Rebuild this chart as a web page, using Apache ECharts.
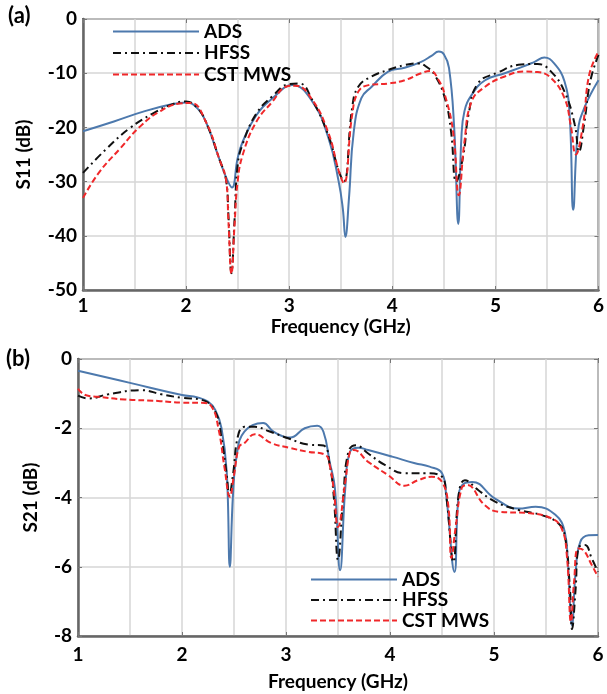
<!DOCTYPE html>
<html>
<head>
<meta charset="utf-8">
<script src="https://cdn.jsdelivr.net/npm/echarts@6/dist/echarts.min.js"></script>
<style>
html,body{margin:0;padding:0;background:#fff;}
#chart{width:607px;height:694px;}
</style>
</head>
<body>
<div id="chart"></div>
<script>
// ---- Data ----
const seriesNames = ['ADS', 'HFSS', 'CST MWS'];
const xTicks = [1, 2, 3, 4, 5, 6];
const s11Ticks = [0, -10, -20, -30, -40, -50];
const s21Ticks = [0, -2, -4, -6, -8];

// (a) S11
const s11AdsF = [1.0, 1.3, 1.6, 1.87, 2.0, 2.1, 2.19, 2.32, 2.39, 2.445, 2.5, 2.55, 2.68, 2.84, 3.03, 3.22, 3.38, 3.48, 3.52, 3.545, 3.58, 3.625, 3.7, 3.8, 3.96, 4.12, 4.28, 4.38, 4.45, 4.5, 4.55, 4.6, 4.64, 4.67, 4.7, 4.77, 4.9, 5.09, 5.28, 5.38, 5.475, 5.57, 5.67, 5.72, 5.755, 5.8, 5.86, 6.0];
const s11AdsV = [-20.7, -18.9, -17.0, -15.7, -15.4, -16.3, -18.9, -25.7, -29.3, -31.1, -25.7, -22.6, -17.8, -14.6, -12.2, -15.1, -21.9, -30, -35, -40.2, -33, -21, -14.6, -12.5, -9.7, -9.0, -7.9, -6.8, -6.0, -6.5, -9, -20, -37.8, -22, -17, -14, -11.3, -10.0, -8.7, -7.9, -7.1, -8.2, -11.5, -17.7, -35.2, -20.8, -16.5, -11.3];

const s11HfssF = [1.0, 1.23, 1.45, 1.68, 1.87, 2.0, 2.1, 2.19, 2.32, 2.39, 2.41, 2.44, 2.47, 2.5, 2.55, 2.68, 2.84, 3.0, 3.1, 3.22, 3.38, 3.48, 3.53, 3.61, 3.67, 3.8, 3.96, 4.12, 4.25, 4.33, 4.41, 4.51, 4.57, 4.62, 4.69, 4.74, 4.83, 5.02, 5.25, 5.41, 5.54, 5.67, 5.77, 5.81, 5.86, 5.92, 6.0];
const s11HfssV = [-28.4, -23.9, -20.2, -17.4, -15.7, -15.2, -16.2, -18.9, -25.7, -30, -36, -46.9, -37, -27, -23, -17.5, -14.2, -12.0, -11.9, -14.8, -21.5, -28, -30, -16.5, -12.5, -10.6, -9.4, -8.5, -8.2, -8.8, -10.3, -14.6, -20.8, -30, -25, -17.6, -11.9, -9.9, -8.4, -8.3, -9.7, -13.4, -19.5, -24.5, -19.5, -11.5, -6.6];

const s11CstF = [1.0, 1.16, 1.36, 1.55, 1.74, 1.94, 2.05, 2.19, 2.32, 2.39, 2.41, 2.44, 2.47, 2.5, 2.55, 2.68, 2.84, 2.97, 3.06, 3.22, 3.38, 3.48, 3.53, 3.61, 3.67, 3.77, 3.96, 4.12, 4.28, 4.37, 4.45, 4.51, 4.59, 4.645, 4.7, 4.77, 4.9, 5.09, 5.28, 5.41, 5.54, 5.67, 5.73, 5.78, 5.85, 5.91, 6.0];
const s11CstV = [-33.0, -28.2, -23.9, -19.9, -17.1, -15.6, -15.5, -18.9, -25.7, -30, -37, -47, -38, -30, -25, -19, -15.2, -12.5, -12.3, -14.8, -21, -28, -30.3, -17.8, -13.4, -12.2, -11.9, -11.3, -10.0, -9.6, -11.3, -14, -20.8, -32.5, -22.6, -15.2, -12.5, -10.6, -9.7, -9.8, -10.9, -14.6, -19.5, -25, -19.5, -10.3, -6.0];

// (b) S21
const s21AdsF = [1.0, 1.5, 2.0, 2.15, 2.25, 2.32, 2.38, 2.43, 2.46, 2.49, 2.525, 2.6, 2.78, 2.88, 3.04, 3.18, 3.3, 3.36, 3.42, 3.47, 3.52, 3.57, 3.615, 3.695, 3.79, 4.02, 4.24, 4.38, 4.5, 4.54, 4.62, 4.66, 4.71, 4.79, 5.01, 5.235, 5.4, 5.59, 5.68, 5.71, 5.75, 5.785, 5.83, 5.91, 6.0];
const s21AdsV = [-0.34, -0.69, -1.04, -1.11, -1.23, -1.47, -2.0, -3.26, -6.0, -3.93, -2.8, -2.1, -1.85, -2.1, -2.27, -2.0, -1.93, -2.1, -2.97, -3.73, -6.1, -3.73, -2.68, -2.56, -2.63, -2.82, -3.01, -3.11, -3.3, -3.93, -6.15, -3.93, -3.6, -3.55, -4.03, -4.32, -4.27, -4.5, -4.99, -5.86, -7.69, -6.15, -5.28, -5.09, -5.08];

const s21HfssF = [1.0, 1.1, 1.29, 1.61, 1.8, 2.0, 2.19, 2.32, 2.38, 2.43, 2.455, 2.49, 2.54, 2.6, 2.7, 2.83, 3.02, 3.21, 3.36, 3.42, 3.46, 3.5, 3.55, 3.6, 3.67, 3.79, 3.95, 4.14, 4.34, 4.5, 4.54, 4.61, 4.66, 4.72, 4.85, 5.01, 5.235, 5.46, 5.62, 5.68, 5.73, 5.75, 5.785, 5.81, 5.875, 5.94, 6.0];
const s21HfssV = [-1.06, -1.14, -1.02, -0.9, -1.02, -1.12, -1.18, -1.52, -2.29, -3.35, -3.93, -3.35, -2.2, -1.96, -1.96, -2.08, -2.29, -2.47, -2.5, -3.06, -4.0, -5.8, -4.0, -2.68, -2.49, -2.73, -3.06, -3.3, -3.3, -3.4, -3.93, -5.86, -3.93, -3.5, -3.79, -4.12, -4.36, -4.51, -4.75, -5.09, -6.63, -7.8, -6.63, -5.47, -5.37, -5.76, -6.15];

const s21CstF = [1.0, 1.07, 1.19, 1.45, 1.77, 2.0, 2.19, 2.285, 2.35, 2.41, 2.46, 2.5, 2.55, 2.6, 2.7, 2.86, 3.04, 3.21, 3.38, 3.42, 3.46, 3.5, 3.57, 3.615, 3.65, 3.79, 3.98, 4.14, 4.27, 4.4, 4.5, 4.56, 4.59, 4.63, 4.69, 4.74, 4.91, 5.04, 5.33, 5.55, 5.65, 5.7, 5.74, 5.77, 5.81, 5.86, 5.94, 6.0];
const s21CstV = [-0.86, -1.04, -1.09, -1.17, -1.21, -1.26, -1.26, -1.38, -2.0, -3.16, -3.98, -3.35, -2.53, -2.43, -2.17, -2.43, -2.57, -2.68, -2.77, -3.06, -3.8, -4.85, -3.55, -2.68, -2.63, -2.97, -3.35, -3.66, -3.5, -3.4, -3.55, -4.22, -5.75, -4.89, -3.72, -3.64, -4.22, -4.41, -4.45, -4.6, -4.89, -5.66, -7.59, -6.43, -5.47, -5.52, -5.95, -6.29];

// ---- Chart ----
const FONT = 'Lato, "Open Sans", sans-serif';
const pairs = (f, v) => f.map((x, i) => [x, v[i]]);
const colors = { 'ADS': '#4d79ad', 'HFSS': '#111111', 'CST MWS': '#f0282a' };
const styles = {
  'ADS': { width: 2, type: 'solid' },
  'HFSS': { width: 2, type: [8, 4, 2, 4] },
  'CST MWS': { width: 2, type: [6, 3] }
};
const gridLineStyle = { color: '#d6d6d6', width: 1.5 };
const labelFont = { fontFamily: FONT, fontWeight: 'bold', fontSize: 19, color: '#000' };

function mkX(gridIndex, labelMargin, nameGap) {
  return [{
    type: 'value', gridIndex, min: xTicks[0], max: xTicks[xTicks.length - 1], interval: 1,
    name: 'Frequency (GHz)', nameLocation: 'middle', nameGap,
    nameTextStyle: labelFont,
    axisLine: { show: true, onZero: false, lineStyle: { color: '#666', width: 2.5 } },
    axisTick: { show: true, inside: true, length: 4, lineStyle: { color: '#777' } },
    axisLabel: Object.assign({ margin: labelMargin }, labelFont),
    splitLine: { show: true, lineStyle: gridLineStyle },
    minorTick: { show: false, splitNumber: 2 },
    minorSplitLine: { show: true, lineStyle: gridLineStyle }
  }, {
    type: 'value', gridIndex, position: 'top', min: xTicks[0], max: xTicks[xTicks.length - 1], interval: 1,
    axisLine: { show: false }, axisLabel: { show: false }, splitLine: { show: false },
    axisTick: { show: true, inside: true, length: 4, lineStyle: { color: '#777' } }
  }];
}
function mkY(gridIndex, ticks, name, nameGap) {
  const mn = Math.min(...ticks), mx = Math.max(...ticks), iv = Math.abs(ticks[1] - ticks[0]);
  return [{
    type: 'value', gridIndex, min: mn, max: mx, interval: iv,
    name, nameLocation: 'middle', nameGap, nameRotate: 90,
    nameTextStyle: labelFont,
    axisLine: { show: true, onZero: false, lineStyle: { color: '#666', width: 2.5 } },
    axisTick: { show: true, inside: true, length: 4, lineStyle: { color: '#777' } },
    axisLabel: Object.assign({ margin: 6 }, labelFont),
    splitLine: { show: true, lineStyle: gridLineStyle }
  }, {
    type: 'value', gridIndex, position: 'right', min: mn, max: mx, interval: iv,
    axisLine: { show: false }, axisLabel: { show: false }, splitLine: { show: false },
    axisTick: { show: true, inside: true, length: 4, lineStyle: { color: '#777' } }
  }];
}
function mkSeries(name, f, v, xi, yi) {
  return {
    name, type: 'line', xAxisIndex: xi, yAxisIndex: yi, data: pairs(f, v),
    symbol: 'none', smooth: 0.45,
    lineStyle: Object.assign({ color: colors[name] }, styles[name]),
    itemStyle: { color: colors[name] }, z: name === 'ADS' ? 3 : (name === 'HFSS' ? 4 : 5)
  };
}
function mkLegend(left, top, gap) {
  return {
    data: seriesNames, orient: 'vertical', left, top, padding: 0,
    itemWidth: 86, itemHeight: 14, itemGap: gap,
    itemStyle: { opacity: 0 },
    textStyle: Object.assign({ lineHeight: 14 }, labelFont),
    backgroundColor: 'transparent'
  };
}

const chart = echarts.init(document.getElementById('chart'), null, { renderer: 'canvas' });
chart.setOption({
  animation: false,
  backgroundColor: '#fff',
  grid: [
    { left: 83, top: 19, width: 518, height: 271, show: true, borderColor: '#6e6e6e', borderWidth: 2, backgroundColor: 'transparent' },
    { left: 78, top: 359, width: 520, height: 277, show: true, borderColor: '#6e6e6e', borderWidth: 2, backgroundColor: 'transparent' }
  ],
  xAxis: [...mkX(0, 6, 27), ...mkX(1, 9, 36)],
  yAxis: [...mkY(0, s11Ticks, 'S11 (dB)', 50), ...mkY(1, s21Ticks, 'S21 (dB)', 38)],
  legend: [mkLegend(112, 22, 2.5), mkLegend(310, 570, 1.5)],
  graphic: [
    { type: 'text', left: 8, top: 5, style: { text: '(a)', font: 'bold 22px ' + FONT, fill: '#000' } },
    { type: 'text', left: 6, top: 348, style: { text: '(b)', font: 'bold 22px ' + FONT, fill: '#000' } }
  ],
  series: [
    mkSeries('ADS', s11AdsF, s11AdsV, 0, 0),
    mkSeries('HFSS', s11HfssF, s11HfssV, 0, 0),
    mkSeries('CST MWS', s11CstF, s11CstV, 0, 0),
    mkSeries('ADS', s21AdsF, s21AdsV, 2, 2),
    mkSeries('HFSS', s21HfssF, s21HfssV, 2, 2),
    mkSeries('CST MWS', s21CstF, s21CstV, 2, 2)
  ]
});
</script>
</body>
</html>
